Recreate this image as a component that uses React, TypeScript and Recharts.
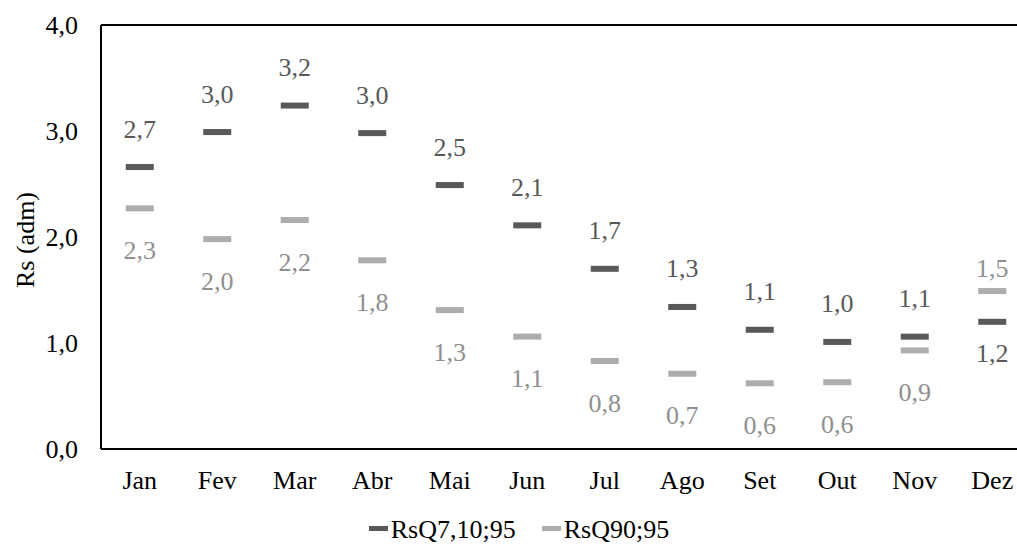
import React from 'react';
import { LineChart, Line, XAxis, YAxis, ReferenceLine, Legend, LabelList } from 'recharts';

const months = ['Jan', 'Fev', 'Mar', 'Abr', 'Mai', 'Jun', 'Jul', 'Ago', 'Set', 'Out', 'Nov', 'Dez'];
const rsQ710 = [2.66, 2.99, 3.24, 2.98, 2.49, 2.11, 1.7, 1.34, 1.125, 1.01, 1.06, 1.2];
const rsQ90 = [2.27, 1.98, 2.16, 1.78, 1.31, 1.06, 0.83, 0.71, 0.62, 0.63, 0.93, 1.49];
const yTicks = [0, 1, 2, 3, 4];
const seriesNames = ['RsQ7,10;95', 'RsQ90;95'];
const yAxisTitle = 'Rs (adm)';

const data = months.map((m, i) => ({ month: m, q710: rsQ710[i], q90: rsQ90[i] }));

const FONT = '"Liberation Serif", "Times New Roman", serif';
const DARK = '#595959';
const LIGHT = '#ADADAD';
const DARK_LABEL = '#595959';
const LIGHT_LABEL = '#8F8F8F';

const fmt = (v: number) => v.toFixed(1).replace('.', ',');

const makeDash = (color: string) => (props: any) => {
  const { cx, cy, index } = props;
  if (cx == null || cy == null) return <g key={`d-${index}`} />;
  return <rect key={`d-${index}`} x={cx - 14} y={cy - 3} width={28} height={6} fill={color} />;
};

const makeLabel = (series: 'dark' | 'light') => (props: any) => {
  const { x, y, index, value } = props;
  if (x == null || y == null) return null;
  const normalOrder = rsQ710[index] >= rsQ90[index];
  const above = series === 'dark' ? normalOrder : !normalOrder;
  let offset: number;
  if (normalOrder) offset = above ? -38 : 42;
  else offset = above ? -23 : 32;
  return (
    <text
      x={x}
      y={y + offset + 8.5}
      textAnchor="middle"
      fill={series === 'dark' ? DARK_LABEL : LIGHT_LABEL}
      fontSize={26}
      fontFamily={FONT}
    >
      {fmt(Number(value))}
    </text>
  );
};

const XTick = (props: any) => {
  const { x, y, payload } = props;
  return (
    <text x={x} y={y + 39.5} textAnchor="middle" fill="#000" fontSize={26} fontFamily={FONT}>
      {payload.value}
    </text>
  );
};

const YTick = (props: any) => {
  const { x, y, payload } = props;
  return (
    <text x={x} y={y + 8.5} textAnchor="end" fill="#000" fontSize={26} fontFamily={FONT}>
      {fmt(Number(payload.value))}
    </text>
  );
};

const YTitle = (props: any) => {
  const vb = props.viewBox || { x: 0, y: 25, width: 101, height: 424 };
  const cx = vb.x + 25;
  const cy = vb.y + vb.height / 2 + 3;
  return (
    <text
      x={cx}
      y={cy}
      transform={`rotate(-90, ${cx}, ${cy})`}
      textAnchor="middle"
      dominantBaseline="central"
      fill="#000"
      fontSize={26}
      fontFamily={FONT}
    >
      {yAxisTitle}
    </text>
  );
};

const renderLegend = () => {
  const colors = [DARK, LIGHT];
  return (
    <div style={{ height: 46, position: 'relative', fontFamily: FONT, fontSize: 26, color: '#000' }}>
      <div
        style={{
          position: 'absolute',
          top: 20,
          left: 0,
          right: 0,
          height: 22,
          display: 'flex',
          justifyContent: 'center',
          alignItems: 'center',
          lineHeight: '22px',
          paddingLeft: 7,
          whiteSpace: 'nowrap',
        }}
      >
        {seriesNames.map((name, i) => (
          <span
            key={name}
            style={{ display: 'inline-flex', alignItems: 'center', marginLeft: i === 0 ? 0 : 26 }}
          >
            <span
              style={{
                display: 'inline-block',
                width: 19,
                height: 5,
                background: colors[i],
                marginRight: 3,
                transform: 'translateY(-2px)',
              }}
            />
            <span>{name}</span>
          </span>
        ))}
      </div>
    </div>
  );
};

export default function App() {
  return (
    <div
      style={{
        position: 'absolute',
        left: 0,
        top: 0,
        width: 1017,
        height: 545,
        overflow: 'hidden',
        background: '#fff',
      }}
    >
      <LineChart width={1040} height={545} data={data} margin={{ top: 25, right: 9, bottom: 0, left: 0 }}>
        <XAxis
          dataKey="month"
          padding={{ left: 38.75, right: 38.75 }}
          axisLine={{ stroke: '#000', strokeWidth: 2 }}
          tickLine={false}
          tickSize={0}
          tickMargin={0}
          height={50}
          interval={0}
          tick={<XTick />}
        />
        <YAxis
          domain={[0, 4]}
          ticks={yTicks}
          width={101}
          axisLine={{ stroke: '#000', strokeWidth: 2 }}
          tickLine={false}
          tickSize={0}
          tickMargin={23}
          tick={<YTick />}
          interval={0}
          label={(p: any) => <YTitle {...p} />}
        />
        <ReferenceLine y={4} stroke="#000" strokeWidth={2} />
        <Legend verticalAlign="bottom" content={renderLegend} />
        <Line
          dataKey="q90"
          name={seriesNames[1]}
          stroke="none"
          dot={makeDash(LIGHT)}
          activeDot={false}
          isAnimationActive={false}
          legendType="none"
        >
          <LabelList dataKey="q90" content={makeLabel('light')} />
        </Line>
        <Line
          dataKey="q710"
          name={seriesNames[0]}
          stroke="none"
          dot={makeDash(DARK)}
          activeDot={false}
          isAnimationActive={false}
          legendType="none"
        >
          <LabelList dataKey="q710" content={makeLabel('dark')} />
        </Line>
      </LineChart>
    </div>
  );
}
